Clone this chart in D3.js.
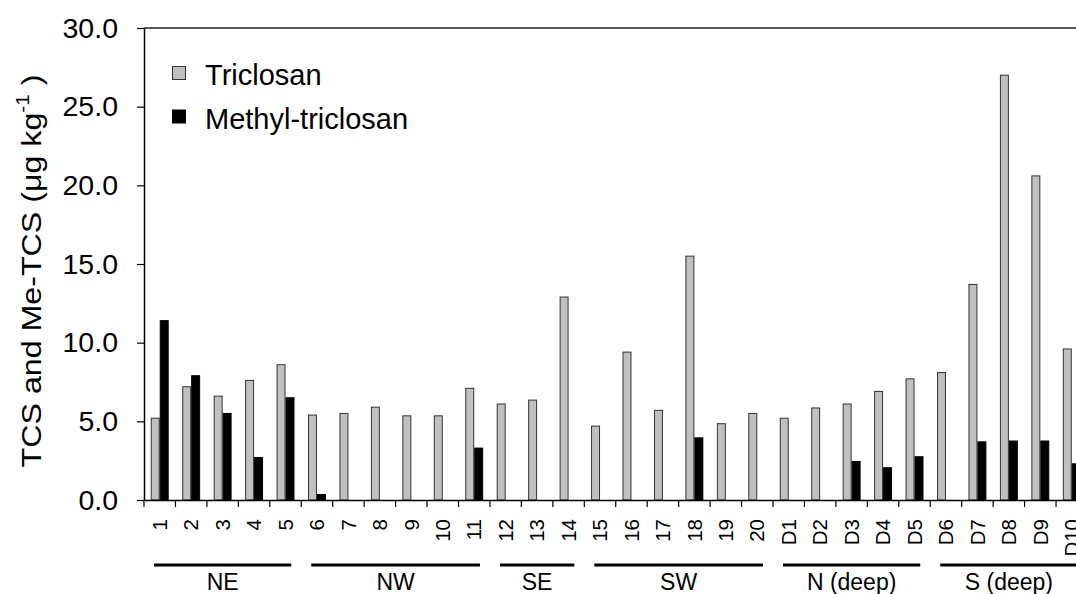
<!DOCTYPE html>
<html>
<head>
<meta charset="utf-8">
<script src="https://cdn.jsdelivr.net/npm/d3@7"></script>
<style>
  html, body { margin: 0; padding: 0; background: #fff; }
  svg { display: block; font-family: "Liberation Sans", Arial, Helvetica, sans-serif; }
</style>
</head>
<body>
<svg id="chart" width="1076" height="594"></svg>
<script>
// Sampling sites (coastal 1-20, deep D1-D10)
const categories = ["1","2","3","4","5","6","7","8","9","10",
  "11","12","13","14","15","16","17","18","19","20",
  "D1","D2","D3","D4","D5","D6","D7","D8","D9","D10"];

// Concentrations, µg kg-1
const triclosan = [5.2, 7.2, 6.6, 7.6, 8.6, 5.4, 5.5, 5.9, 5.35, 5.35,
  7.1, 6.1, 6.35, 12.9, 4.7, 9.4, 5.7, 15.5, 4.85, 5.5,
  5.2, 5.85, 6.1, 6.9, 7.7, 8.1, 13.7, 27.0, 20.6, 9.6];
const methylTriclosan = [11.4, 7.9, 5.5, 2.7, 6.5, 0.35, 0, 0, 0, 0,
  3.3, 0, 0, 0, 0, 0, 0, 3.95, 0, 0,
  0, 0, 2.45, 2.05, 2.75, 0, 3.7, 3.75, 3.75, 2.3];

const yTicks = [0, 5, 10, 15, 20, 25, 30];

// Regions grouping the sites
const regions = ["NE", "NW", "SE", "SW", "N (deep)", "S (deep)"];
const regionFirst = ["1", "6", "12", "15", "D1", "D6"];
const regionLast = ["5", "11", "14", "20", "D5", "D10"];

const seriesNames = ["Triclosan", "Methyl-triclosan"];
const seriesFill = ["#c0c0c0", "#000000"];
const seriesStroke = ["#333333", "#000000"];

(function draw() {
  const svg = d3.select("#chart");
  const W = 1076, H = 594;
  svg.append("rect").attr("width", W).attr("height", H).attr("fill", "#fff");

  const plotLeft = 144, plotTop = 28, plotBottom = 500;
  const step = 31.45;
  const plotRight = plotLeft + step * categories.length;

  const x = d3.scaleBand().domain(categories).range([plotLeft, plotRight])
    .paddingInner(0.43).paddingOuter(0.215);
  const xSub = d3.scaleBand().domain([0, 1]).range([0, x.bandwidth()]);
  const y = d3.scaleLinear().domain([0, 30]).range([plotBottom, plotTop]);

  // Bars
  const rows = categories.map((c, i) => ({ c, v: [triclosan[i], methylTriclosan[i]] }));
  const g = svg.append("g");
  rows.forEach(r => {
    r.v.forEach((v, k) => {
      if (v <= 0) return;
      g.append("rect")
        .attr("x", x(r.c) + xSub(k) + 0.5)
        .attr("y", y(v))
        .attr("width", xSub.bandwidth() - 1)
        .attr("height", y(0) - y(v))
        .attr("fill", seriesFill[k])
        .attr("stroke", seriesStroke[k])
        .attr("stroke-width", 1);
    });
  });

  // Frame top line
  svg.append("line").attr("x1", plotLeft).attr("x2", W + 20)
    .attr("y1", plotTop).attr("y2", plotTop)
    .attr("stroke", "#222").attr("stroke-width", 1.5);

  // Y axis
  const yAxis = svg.append("g").attr("transform", `translate(${plotLeft},0)`)
    .call(d3.axisLeft(y).tickValues(yTicks).tickFormat(d3.format(".1f"))
      .tickSize(7).tickSizeOuter(0).tickPadding(19));
  yAxis.select(".domain").attr("stroke", "#000").attr("stroke-width", 1.5);
  yAxis.selectAll(".tick line").attr("stroke", "#000").attr("stroke-width", 1.2);
  yAxis.selectAll(".tick text").attr("font-size", 28.5).attr("fill", "#000")
    .attr("font-family", "Liberation Sans, Arial, sans-serif");

  // X axis: baseline, ticks between sites, rotated labels
  const xAxis = svg.append("g").attr("transform", `translate(0,${plotBottom})`)
    .call(d3.axisBottom(x).tickSize(0).tickSizeOuter(0).tickPadding(0));
  xAxis.select(".domain").attr("stroke", "#000").attr("stroke-width", 1.5);
  xAxis.selectAll(".tick text")
    .attr("font-size", 20.5).attr("fill", "#000")
    .attr("font-family", "Liberation Sans, Arial, sans-serif")
    .attr("text-anchor", "end")
    .attr("transform", "translate(0,19) rotate(-90)")
    .attr("x", 0).attr("y", 0).attr("dy", "0.35em");

  const bounds = d3.range(categories.length + 1).map(i => plotLeft + i * x.step());
  svg.append("g").selectAll("line").data(bounds).join("line")
    .attr("x1", d => d).attr("x2", d => d)
    .attr("y1", plotBottom).attr("y2", plotBottom + 7)
    .attr("stroke", "#000").attr("stroke-width", 1.2);

  // Y axis title (slightly stretched along its reading direction)
  const title = svg.append("text")
    .attr("transform", "translate(41,271) rotate(-90) scale(1.15,1)")
    .attr("text-anchor", "middle")
    .attr("font-size", 28).attr("fill", "#000");
  title.append("tspan").text("TCS and Me-TCS (\u03bcg kg");
  title.append("tspan").attr("font-size", 18).attr("dy", "-0.65em").text("-1");
  title.append("tspan").attr("dy", "0.42em").text(" )");

  // Legend
  const legend = svg.append("g");
  seriesNames.forEach((name, k) => {
    const ly = 66.5 + k * 43.5;
    legend.append("rect").attr("x", 172.5).attr("y", ly)
      .attr("width", 13).attr("height", 13)
      .attr("fill", seriesFill[k]).attr("stroke", seriesStroke[k]).attr("stroke-width", 1);
    legend.append("text").attr("x", 205).attr("y", ly + 18.5)
      .attr("font-size", 29).attr("fill", "#000").text(name);
  });

  // Region bars and names below the axis
  const inset = 10;
  regions.forEach((name, i) => {
    const x0 = x(regionFirst[i]) - x.step() * x.paddingOuter() + inset;
    const x1 = x(regionLast[i]) - x.step() * x.paddingOuter() + x.step() - inset;
    svg.append("line").attr("x1", x0).attr("x2", x1)
      .attr("y1", 565).attr("y2", 565)
      .attr("stroke", "#000").attr("stroke-width", 3);
    svg.append("text").attr("x", (x0 + x1) / 2).attr("y", 590)
      .attr("text-anchor", "middle").attr("font-size", 23).attr("fill", "#000")
      .text(name);
  });
})();
</script>
</body>
</html>
